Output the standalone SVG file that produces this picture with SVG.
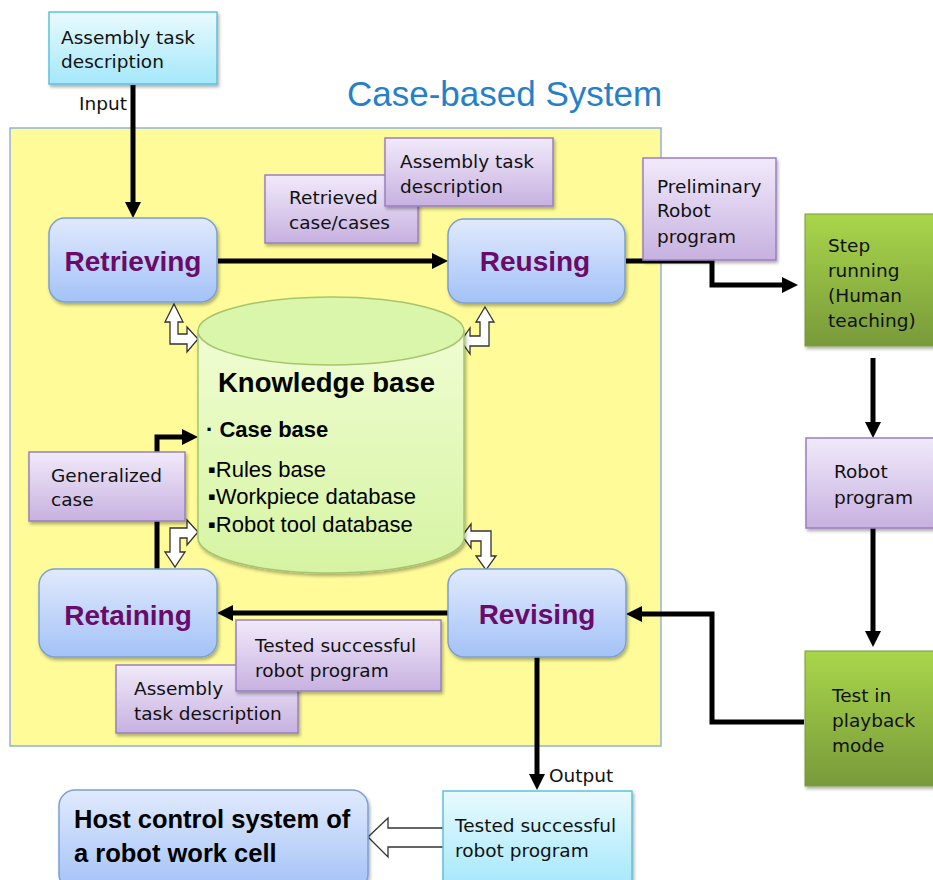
<svg xmlns="http://www.w3.org/2000/svg" width="933" height="880" viewBox="0 0 933 880">
<defs>
  <linearGradient id="gBlue" x1="0" y1="0" x2="0" y2="1">
    <stop offset="0" stop-color="#e1eafd"/>
    <stop offset="1" stop-color="#a3c2f7"/>
  </linearGradient>
  <linearGradient id="gPurple" x1="0" y1="0" x2="0" y2="1">
    <stop offset="0" stop-color="#f1eafa"/>
    <stop offset="1" stop-color="#c7b1e0"/>
  </linearGradient>
  <linearGradient id="gCyan" x1="0" y1="0" x2="0" y2="1">
    <stop offset="0" stop-color="#e9fafe"/>
    <stop offset="1" stop-color="#a4e8fb"/>
  </linearGradient>
  <linearGradient id="gGreen" x1="0" y1="0" x2="0" y2="1">
    <stop offset="0" stop-color="#a9d64a"/>
    <stop offset="1" stop-color="#789a3a"/>
  </linearGradient>
  <linearGradient id="gCyl" x1="0" y1="0" x2="0" y2="1">
    <stop offset="0" stop-color="#f0fdd2"/>
    <stop offset="1" stop-color="#d5f4a2"/>
  </linearGradient>
  <filter id="sh" x="-10%" y="-10%" width="130%" height="130%">
    <feDropShadow dx="1.5" dy="2.5" stdDeviation="1.8" flood-color="#000" flood-opacity="0.3"/>
  </filter>
  <marker id="ah" markerUnits="userSpaceOnUse" markerWidth="16" markerHeight="16" refX="0" refY="8" orient="auto" overflow="visible">
    <path d="M0,0 L16,8 L0,16 Z" fill="#000"/>
  </marker>
  <style>
    .blue { fill: url(#gBlue); stroke: #7b9fd4; stroke-width: 1.5; filter: url(#sh); }
    .purple { fill: url(#gPurple); stroke: #9a7fc2; stroke-width: 1.5; filter: url(#sh); }
    .cyan { fill: url(#gCyan); stroke: #5fc1dc; stroke-width: 1.5; filter: url(#sh); }
    .green { fill: url(#gGreen); stroke: #7a9a3a; stroke-width: 1; filter: url(#sh); }
    .txt { font-family: "DejaVu Sans", Verdana, sans-serif; font-size: 18.5px; fill: #111; }
    .step { font-family: "Liberation Sans", Arial, sans-serif; font-weight: bold; font-size: 28px; fill: #6a0a6a; text-anchor: middle; }
    .kb { font-family: "Liberation Sans", Arial, sans-serif; fill: #000; }
    .conn { fill: none; stroke: #000; stroke-width: 5; marker-end: url(#ah); }
    .wa { fill: #fff; stroke: #333; stroke-width: 1.3; stroke-linejoin: miter; }
  </style>
</defs>

<!-- Case-based system panel -->
<g id="panel">
  <rect x="10" y="128" width="651" height="618" fill="#fefb98" stroke="#8fb2de" stroke-width="1.5"/>
  <text x="347" y="106" font-family="Liberation Sans, Arial, sans-serif" font-size="35px" fill="#2480c8">Case-based System</text>
</g>

<!-- Connectors -->
<g id="connectors">
  <line class="conn" x1="133" y1="85" x2="133" y2="202"/>
  <line class="conn" x1="218" y1="261" x2="432" y2="261"/>
  <path class="conn" d="M626,261 H712 V285 H782"/>
  <line class="conn" x1="873" y1="358" x2="873" y2="422"/>
  <line class="conn" x1="873" y1="528" x2="873" y2="631"/>
  <path class="conn" d="M804,722 H712 V614 H642"/>
  <line class="conn" x1="448" y1="613" x2="233" y2="613"/>
  <path class="conn" d="M157,569 V437 H182"/>
  <line class="conn" x1="537" y1="657" x2="537" y2="774"/>
  <!-- white bent double arrows to knowledge base -->
  <path class="wa" d="M174,304 L183,322 L178,322 L178,334 L187,334 L187,327 L198,339 L187,352 L187,344 L170,344 L170,322 L165,322 Z"/>
  <path class="wa" d="M485,307 L494,322 L489,322 L489,346 L470,346 L470,354 L461,341 L470,328 L470,336 L480,336 L480,322 L476,322 Z"/>
  <path class="wa" d="M198,532 L187,520 L187,528 L170,528 L170,552 L165,552 L175,567 L185,552 L180,552 L180,538 L187,538 L187,545 Z"/>
  <path class="wa" d="M462,536 L471,524 L471,531 L491,531 L491,556 L496,556 L486,570 L476,556 L481,556 L481,541 L471,541 L471,548 Z"/>
  <!-- block arrow to host -->
  <path class="wa" d="M443,828 L388,828 L388,818 L368,837 L388,857 L388,847 L443,847"/>
</g>

<!-- Input -->
<g id="input">
  <rect class="cyan" x="49" y="12" width="168" height="72"/>
  <text class="txt" x="61" y="44">Assembly task</text>
  <text class="txt" x="61" y="68">description</text>
  <text class="txt" x="79" y="110">Input</text>
</g>

<!-- Knowledge base -->
<g id="knowledge-base">
  <path d="M198,331 L198,538 A133,35 0 0 0 464,538 L464,331 Z" fill="url(#gCyl)" stroke="#a5c56e" stroke-width="1.5" filter="url(#sh)"/>
  <ellipse cx="331" cy="331" rx="133" ry="34" fill="#daf6aa" stroke="#a5c56e" stroke-width="1.5"/>
  <text class="kb" x="218" y="392" font-size="27.5px" font-weight="bold">Knowledge base</text>
  <text class="kb" x="206" y="437" font-size="22px" font-weight="bold">· Case base</text>
  <text class="kb" x="208" y="477" font-size="22px">▪Rules base</text>
  <text class="kb" x="208" y="504" font-size="22px">▪Workpiece database</text>
  <text class="kb" x="208" y="532" font-size="22px">▪Robot tool database</text>
</g>

<!-- Process steps -->
<g id="retrieving">
  <rect class="blue" x="49" y="218" width="168" height="84" rx="16"/>
  <text class="step" x="133" y="271">Retrieving</text>
</g>
<g id="reusing">
  <rect class="blue" x="448" y="219" width="177" height="84" rx="16"/>
  <text class="step" x="535" y="271">Reusing</text>
</g>
<g id="retaining">
  <rect class="blue" x="39" y="569" width="178" height="88" rx="16"/>
  <text class="step" x="128" y="625">Retaining</text>
</g>
<g id="revising">
  <rect class="blue" x="448" y="569" width="178" height="88" rx="16"/>
  <text class="step" x="537" y="624">Revising</text>
</g>

<!-- Purple labels -->
<g id="retrieved-cases">
  <rect class="purple" x="265" y="175" width="153" height="68"/>
  <text class="txt" x="289" y="204">Retrieved</text>
  <text class="txt" x="289" y="229">case/cases</text>
</g>
<g id="assembly-desc-top">
  <rect class="purple" x="385" y="138" width="168" height="68"/>
  <text class="txt" x="400" y="168">Assembly task</text>
  <text class="txt" x="400" y="193">description</text>
</g>
<g id="preliminary">
  <rect class="purple" x="643" y="158" width="133" height="102"/>
  <text class="txt" x="657" y="193">Preliminary</text>
  <text class="txt" x="657" y="217">Robot</text>
  <text class="txt" x="657" y="243">program</text>
</g>
<g id="generalized">
  <rect class="purple" x="29" y="452" width="156" height="69"/>
  <text class="txt" x="51" y="482">Generalized</text>
  <text class="txt" x="51" y="506">case</text>
</g>
<g id="assembly-desc-bottom">
  <rect class="purple" x="116" y="665" width="182" height="68"/>
  <text class="txt" x="134" y="695">Assembly</text>
  <text class="txt" x="134" y="720">task description</text>
</g>
<g id="tested-purple">
  <rect class="purple" x="236" y="620" width="205" height="71"/>
  <text class="txt" x="255" y="652">Tested successful</text>
  <text class="txt" x="255" y="677">robot program</text>
</g>
<g id="robot-program">
  <rect class="purple" x="806" y="438" width="135" height="90"/>
  <text class="txt" x="834" y="478">Robot</text>
  <text class="txt" x="834" y="504">program</text>
</g>

<!-- Green steps -->
<g id="step-running">
  <rect class="green" x="805" y="214" width="135" height="132"/>
  <text class="txt" x="828" y="252">Step</text>
  <text class="txt" x="828" y="277">running</text>
  <text class="txt" x="828" y="302">(Human</text>
  <text class="txt" x="828" y="327">teaching)</text>
</g>
<g id="test-playback">
  <rect class="green" x="805" y="651" width="135" height="135"/>
  <text class="txt" x="832" y="702">Test in</text>
  <text class="txt" x="832" y="727">playback</text>
  <text class="txt" x="832" y="752">mode</text>
</g>

<!-- Output -->
<g id="output">
  <text class="txt" x="549" y="782">Output</text>
  <rect class="cyan" x="443" y="791" width="189" height="95"/>
  <text class="txt" x="455" y="832">Tested successful</text>
  <text class="txt" x="455" y="857">robot program</text>
</g>
<g id="host">
  <rect class="blue" x="59" y="790" width="309" height="100" rx="16"/>
  <text class="kb" x="74" y="828" font-size="25.5px" font-weight="bold">Host control system of</text>
  <text class="kb" x="74" y="862" font-size="25.5px" font-weight="bold">a robot work cell</text>
</g>
</svg>
